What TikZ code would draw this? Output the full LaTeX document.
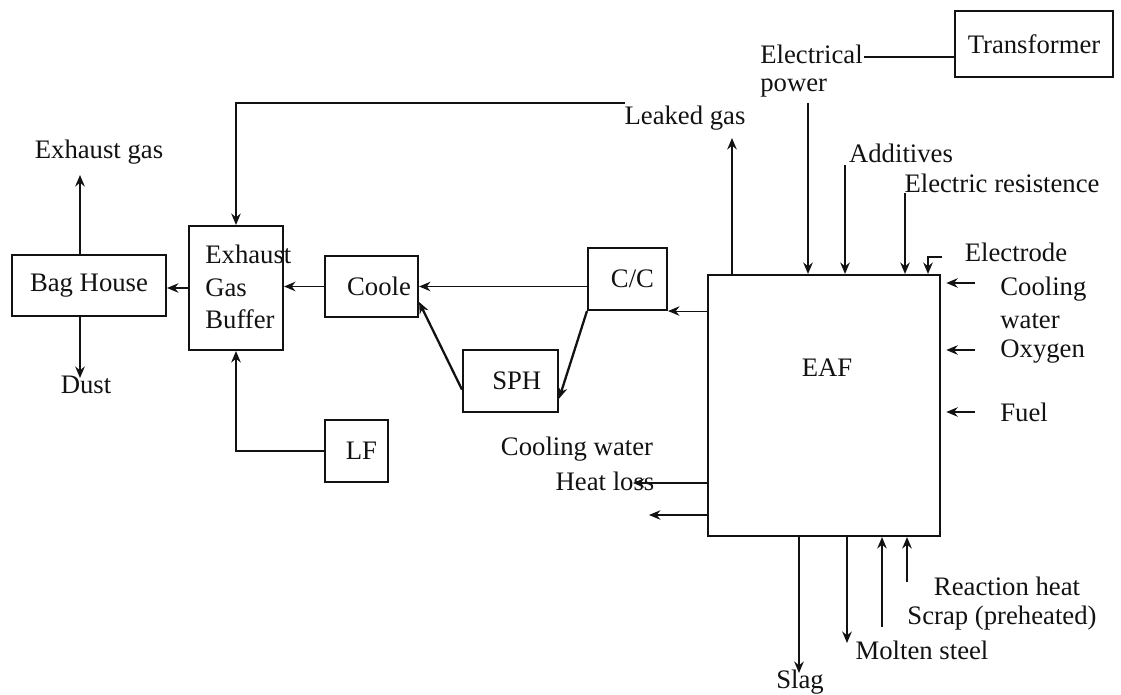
\documentclass[tikz,border=0pt]{standalone}
\usepackage{fontspec}
\setmainfont{Liberation Serif}
\usetikzlibrary{arrows.meta}
\definecolor{ink}{RGB}{18,18,18}

\begin{document}
\begin{tikzpicture}[x=0.02cm, y=-0.02cm,
    lab/.style={font=\fontsize{15.2}{18.5}\selectfont, color=ink, inner sep=0pt},
    box/.style={draw=ink, line width=1.2pt, inner sep=0pt, lab},
    flow/.style={-{Stealth[length=6.5pt, width=5.4pt]}, line width=1.3pt, color=ink},
    feed/.style={flow, line width=0.6pt}]
  \useasboundingbox (0,0) rectangle (1121,695);

  % ---- units of the plant ----------------------------------------------------
  \node[box, minimum width=3.08cm, minimum height=1.22cm] (bag)   at (89,285.5) {Bag House};
  \node[box, minimum width=1.88cm, minimum height=2.48cm] (buf)   at (236,288) {};
  \node[lab, anchor=west, align=left, font=\fontsize{15.2}{18.7}\selectfont]
    (buftxt) at (205,287) {Exhaust\\Gas\\Buffer};
  \node[box, minimum width=1.86cm, minimum height=1.22cm] (coole) at (371.5,286.5) {\hspace*{0.3cm}Coole};
  \node[box, minimum width=1.26cm, minimum height=1.24cm] (lf)    at (356.5,451) {\hspace*{0.2cm}LF};
  \node[box, minimum width=1.58cm, minimum height=1.24cm] (cc)    at (627.5,279) {\hspace*{0.2cm}C/C};
  \node[box, minimum width=1.90cm, minimum height=1.24cm] (sph)   at (510.5,381) {\hspace*{0.25cm}SPH};
  \node[box, minimum width=4.64cm, minimum height=5.22cm] (eaf)   at (824,405.5) {};
  \node[lab] (eaftxt) at (827,368) {EAF};
  \node[box, minimum width=3.16cm, minimum height=1.32cm] (trans) at (1034,44) {Transformer};

  % ---- gas train ---------------------------------------------------------------
  \draw[feed] (buf.west) -- (buf.west -| bag.east);
  \draw[feed] (coole.west) -- (coole.west -| buf.east);
  \draw[feed] (cc.west |- coole.east) -- (coole.east);
  \draw[feed] (eaf.west |- cc.south east) -- (cc.south east);
  \draw[flow] (cc.south west) -- (sph.-20);
  \draw[flow] (sph.190) -- (coole.-18);
  \coordinate (top) at (625,103);
  \draw[feed] (top) -| (buf.north);
  \draw[flow] (lf.west) -| (buf.south);

  % bag house outlets
  \node[lab] (exh)  at (99,152) {Exhaust gas};
  \node[lab] (dust) at (86,385) {Dust};
  \coordinate (exhtip)  at (80,175);
  \coordinate (dusttip) at (80,378);
  \draw[flow] (bag.north -| exhtip) -- (exhtip);
  \draw[flow] (bag.south -| dusttip) -- (dusttip);

  % ---- top of the furnace ----------------------------------------------------
  \node[lab] (leak) at (685,118) {Leaked gas};
  \node[lab, anchor=west, align=left] (elec) at (760,71) {Electrical\\[-3pt]power};
  \node[lab] (add)  at (901,153) {Additives};
  \node[lab] (res)  at (1002,183) {Electric resistence};
  \node[lab] (edl)  at (1016,252) {Electrode};
  \coordinate (pw) at (864,57);
  \draw[line width=0.8pt, color=ink] (pw) -- (pw -| trans.west);
  \coordinate (lg) at (732,138);
  \draw[flow] (eaf.north -| lg) -- (lg);
  \foreach \x/\y in {808/103, 845/165, 905/193} {
    \coordinate (in\x) at (\x,\y);
    \draw[flow] (in\x) -- (in\x |- eaf.north);
  }
  \coordinate (ed)  at (942,257);
  \coordinate (edt) at (928,257);
  \draw[flow, line width=0.9pt] (ed) -- (edt) -- (edt |- eaf.north);

  % ---- right side inputs -----------------------------------------------------
  \node[lab, anchor=west, align=left, font=\fontsize{15.2}{18.7}\selectfont]
    (cwr) at (1000,303) {Cooling\\water};
  \node[lab, anchor=west] (oxy)  at (1000,352) {Oxygen};
  \node[lab, anchor=west] (fuel) at (1000,412) {Fuel};
  \foreach \y in {283,350,412} {
    \coordinate (r\y) at (975,\y);
    \draw[feed, shorten >=3pt] (r\y) -- (r\y -| eaf.east);
  }

  % ---- left side losses ------------------------------------------------------
  \node[lab] (cwl)  at (577,449) {Cooling water};
  \node[lab] (loss) at (605,481) {Heat loss};
  \coordinate (hl) at (633,483);
  \coordinate (ow) at (649,515);
  \draw[feed] (hl -| eaf.west) -- (hl);
  \draw[feed] (ow -| eaf.west) -- (ow);

  % ---- bottom: products and charge -------------------------------------------
  \node[lab] (rh)    at (1007,586) {Reaction heat};
  \node[lab] (scrap) at (1002,618) {Scrap (preheated)};
  \node[lab] (steel) at (922,650) {Molten steel};
  \node[lab] (slag)  at (800,682) {Slag};
  \coordinate (slagtip)  at (799,673);
  \coordinate (steeltip) at (847,643);
  \coordinate (scrapin)  at (882,627);
  \coordinate (rhin)     at (907,582);
  \draw[flow] (eaf.south -| slagtip) -- (slagtip);
  \draw[flow] (eaf.south -| steeltip) -- (steeltip);
  \draw[flow, line width=0.8pt] (scrapin) -- (scrapin |- eaf.south);
  \draw[flow] (rhin) -- (rhin |- eaf.south);
\end{tikzpicture}
\end{document}
